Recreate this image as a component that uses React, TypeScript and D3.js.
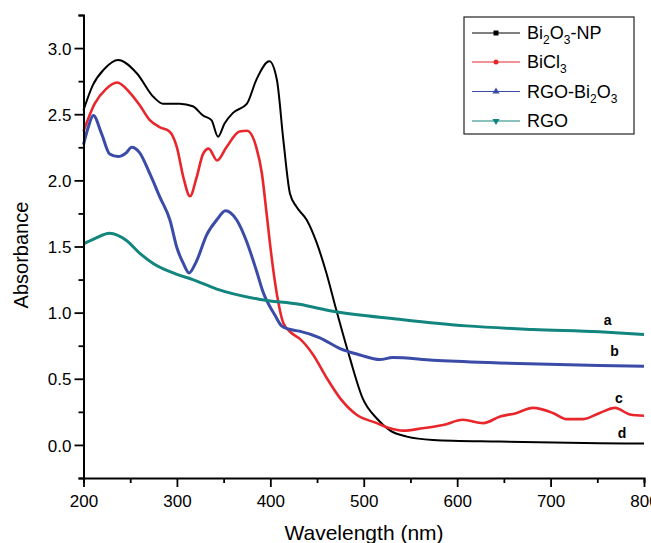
import React, { useEffect, useRef } from 'react';
import * as d3 from 'd3';

// wavelength (nm) / absorbance
const bi2o3Wl = [200, 210, 222, 237, 257, 275, 285, 303, 317, 328, 337, 344, 351, 360, 375, 385, 399, 407, 414, 421, 428, 439, 449, 460, 471, 485, 499, 514, 528, 546, 574, 645, 752, 800];
const bi2o3Abs = [2.53, 2.72, 2.84, 2.91, 2.81, 2.63, 2.58, 2.58, 2.56, 2.49, 2.455, 2.33, 2.43, 2.51, 2.58, 2.76, 2.9, 2.76, 2.3, 1.9, 1.8, 1.7, 1.54, 1.3, 1.01, 0.66, 0.35, 0.2, 0.11, 0.063, 0.038, 0.025, 0.012, 0.01];

const bicl3Wl = [200, 212, 224, 236, 250, 260, 271, 282, 292, 300, 307, 314, 321, 328, 334, 343, 353, 367, 375, 385, 391, 396, 401, 407, 414, 422, 432, 446, 460, 475, 492, 514, 528, 542, 563, 585, 606, 628, 646, 663, 681, 703, 717, 735, 752, 769, 785, 800];
const bicl3Abs = [2.37, 2.58, 2.69, 2.74, 2.66, 2.57, 2.455, 2.4, 2.37, 2.25, 2.02, 1.88, 2.02, 2.2, 2.24, 2.15, 2.25, 2.37, 2.375, 2.25, 2.05, 1.75, 1.44, 1.14, 0.92, 0.85, 0.8, 0.68, 0.51, 0.35, 0.23, 0.165, 0.126, 0.108, 0.126, 0.15, 0.19, 0.165, 0.215, 0.24, 0.28, 0.24, 0.195, 0.195, 0.24, 0.28, 0.23, 0.22];

const rgoBiWl = [200, 205, 210.5, 219.5, 228, 237, 246, 251.5, 260, 271, 282, 292.5, 300, 307, 313, 321, 332, 342.5, 352, 364, 374.5, 385, 392, 405, 412, 420, 431, 453, 474, 496, 517, 531, 574, 645, 752, 800];
const rgoBiAbs = [2.27, 2.4, 2.49, 2.35, 2.2, 2.18, 2.21, 2.25, 2.21, 2.05, 1.87, 1.7, 1.49, 1.37, 1.3, 1.39, 1.59, 1.7, 1.77, 1.7, 1.54, 1.32, 1.16, 0.98, 0.9, 0.875, 0.86, 0.81, 0.73, 0.68, 0.645, 0.66, 0.64, 0.62, 0.6, 0.595];

const rgoWl = [200, 212, 228, 246, 260, 275, 300, 317, 342, 389, 431, 467, 538, 610, 681, 752, 800];
const rgoAbs = [1.52, 1.56, 1.6, 1.545, 1.45, 1.37, 1.29, 1.25, 1.18, 1.1, 1.063, 1.01, 0.95, 0.9, 0.873, 0.855, 0.835];

const xTicks = [200, 300, 400, 500, 600, 700, 800];
const yTicks = [0, 0.5, 1.0, 1.5, 2.0, 2.5, 3.0];

const series = [
  { wl: bi2o3Wl, abs: bi2o3Abs, color: '#000000', width: 2, label: [['Bi'], ['2', 'sub'], ['O'], ['3', 'sub'], ['-NP']], marker: 'square', tag: 'd', tagWl: 772, tagAbs: 0.02 },
  { wl: bicl3Wl, abs: bicl3Abs, color: '#e8262b', width: 2.6, label: [['BiCl'], ['3', 'sub']], marker: 'circle', tag: 'c', tagWl: 769, tagAbs: 0.29 },
  { wl: rgoBiWl, abs: rgoBiAbs, color: '#3b4ba8', width: 3, label: [['RGO-Bi'], ['2', 'sub'], ['O'], ['3', 'sub']], marker: 'up', tag: 'b', tagWl: 764, tagAbs: 0.64 },
  { wl: rgoWl, abs: rgoAbs, color: '#13857f', width: 3, label: [['RGO']], marker: 'down', tag: 'a', tagWl: 757, tagAbs: 0.88 },
];

const App = () => {
  const ref = useRef<SVGSVGElement>(null);

  useEffect(() => {
    const svg = d3.select(ref.current);
    svg.selectAll('*').remove();

    const font = "'Liberation Sans', Arial, sans-serif";
    const x = d3.scaleLinear().domain([200, 800]).range([83.5, 644]);
    const y = d3.scaleLinear().domain([-0.25, 3.25]).range([478, 15]);

    const line = d3.line<[number, number]>()
      .x(d => x(d[0]))
      .y(d => y(d[1]))
      .curve(d3.curveMonotoneX);

    series.forEach(s => {
      const pts = s.wl.map((w, i) => [w, s.abs[i]] as [number, number]);
      svg.append('path')
        .attr('d', line(pts))
        .attr('fill', 'none')
        .attr('stroke', s.color)
        .attr('stroke-width', s.width)
        .attr('stroke-linejoin', 'round');
    });

    // curve tags a-d
    series.forEach(s => {
      svg.append('text')
        .attr('x', x(s.tagWl))
        .attr('y', y(s.tagAbs) - 4)
        .attr('font-family', font)
        .attr('font-size', 14)
        .attr('font-weight', 'bold')
        .attr('fill', '#000')
        .text(s.tag);
    });

    // axes
    const xAxis = svg.append('g')
      .attr('transform', `translate(0,${y(-0.25)})`)
      .call(d3.axisBottom(x).tickValues(d3.range(200, 801, 50)).tickSize(5).tickFormat(() => ''));
    xAxis.selectAll('.tick line').filter((d: any) => xTicks.includes(d)).attr('y2', 9);
    xAxis.selectAll('.tick').filter((d: any) => xTicks.includes(d)).append('text')
      .attr('y', 29)
      .attr('fill', '#000')
      .attr('font-family', font)
      .attr('font-size', 17)
      .attr('text-anchor', 'middle')
      .text((d: any) => d);

    const yAxis = svg.append('g')
      .attr('transform', `translate(${x(200)},0)`)
      .call(d3.axisLeft(y).tickValues(d3.range(-0.25, 3.26, 0.25)).tickSize(5).tickFormat(() => ''));
    yAxis.selectAll('.tick line').filter((d: any) => yTicks.some(t => Math.abs(t - d) < 1e-6)).attr('x2', -9);
    yAxis.selectAll('.tick').filter((d: any) => yTicks.some(t => Math.abs(t - d) < 1e-6)).append('text')
      .attr('x', -12)
      .attr('dy', '0.36em')
      .attr('fill', '#000')
      .attr('font-family', font)
      .attr('font-size', 17)
      .attr('text-anchor', 'end')
      .text((d: any) => d3.format('.1f')(d));

    svg.selectAll('.domain').attr('stroke-width', 2);
    svg.selectAll('.tick line').attr('stroke-width', 1.8);

    svg.append('text')
      .attr('x', 364)
      .attr('y', 540)
      .attr('text-anchor', 'middle')
      .attr('font-family', font)
      .attr('font-size', 21)
      .text('Wavelength (nm)');

    svg.append('text')
      .attr('transform', 'translate(28,255) rotate(-90)')
      .attr('text-anchor', 'middle')
      .attr('font-family', font)
      .attr('font-size', 20)
      .text('Absorbance');

    // legend
    const lg = svg.append('g');
    lg.append('rect')
      .attr('x', 464).attr('y', 17)
      .attr('width', 170).attr('height', 117)
      .attr('fill', '#fff')
      .attr('stroke', '#222')
      .attr('stroke-width', 1.2);
    const baselines = [39, 68, 97.5, 127];
    series.forEach((s, i) => {
      const by = baselines[i];
      const ly = by - 6;
      lg.append('line')
        .attr('x1', 472).attr('x2', 520)
        .attr('y1', ly).attr('y2', ly)
        .attr('stroke', s.color).attr('stroke-width', 1);
      if (s.marker === 'square') {
        lg.append('rect').attr('x', 493.5).attr('y', ly - 2.5).attr('width', 5).attr('height', 5).attr('fill', s.color);
      } else if (s.marker === 'circle') {
        lg.append('circle').attr('cx', 496).attr('cy', ly).attr('r', 2.5).attr('fill', s.color);
      } else {
        const sym = d3.symbol().type(d3.symbolTriangle).size(22);
        lg.append('path')
          .attr('d', sym())
          .attr('transform', `translate(496,${ly}) rotate(${s.marker === 'down' ? 180 : 0})`)
          .attr('fill', s.color);
      }
      const t = lg.append('text')
        .attr('x', 527).attr('y', by)
        .attr('font-family', font)
        .attr('font-size', 18)
        .attr('fill', '#000');
      s.label.forEach(([txt, kind]) => {
        const sp = t.append('tspan').text(txt);
        if (kind === 'sub') sp.attr('font-size', 12).attr('dy', 5);
        else sp.attr('dy', t.selectAll('tspan').size() > 1 ? -5 : 0);
      });
    });
  }, []);

  return (
    <svg
      ref={ref}
      width={651}
      height={543}
      style={{ position: 'absolute', left: 0, top: 0, background: '#fff' }}
    />
  );
};

export default App;
